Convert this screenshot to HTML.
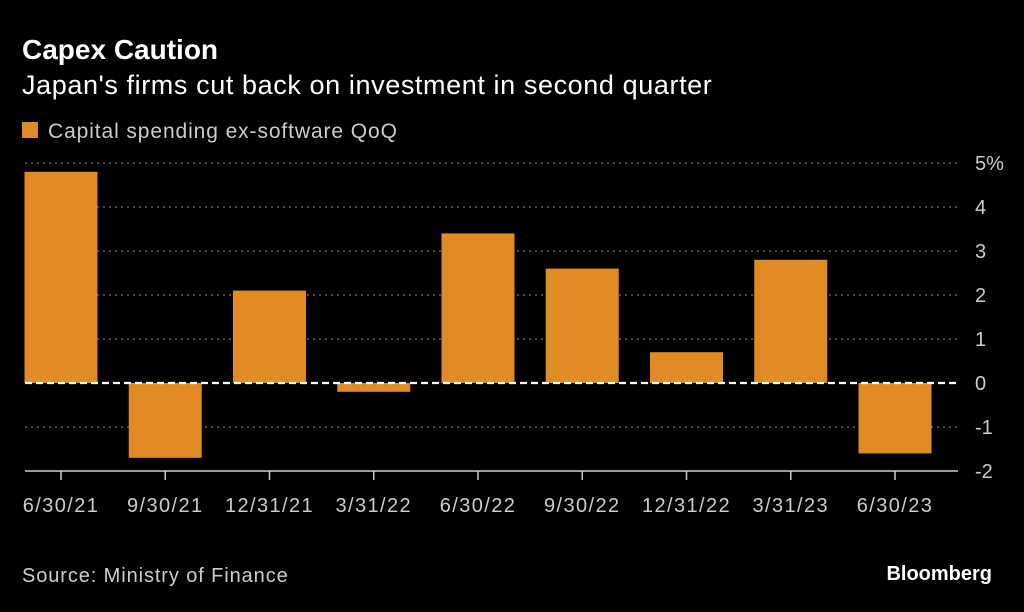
<!DOCTYPE html>
<html><head><meta charset="utf-8"><style>
body{margin:0;background:#000;width:1024px;height:607px;overflow:hidden;font-family:"Liberation Sans",sans-serif;color:#fff}
</style></head><body>
<svg width="1024" height="607">
<text x="22" y="59" font-size="28" font-weight="bold" fill="#fff">Capex Caution</text>
<text x="22" y="94" font-size="27" letter-spacing="0.6" fill="#fff">Japan's firms cut back on investment in second quarter</text>
<rect x="22" y="122" width="16" height="16" fill="#e08b24"/>
<text x="48" y="138" font-size="21" letter-spacing="0.9" fill="#ccc">Capital spending ex-software QoQ</text>
<g id="grid"></g><g id="bars"></g><g id="axis"></g>
<text x="22" y="582" font-size="20" letter-spacing="0.9" fill="#ccc">Source: Ministry of Finance</text>
<text x="992" y="580" font-size="20" font-weight="bold" fill="#fff" text-anchor="end">Bloomberg</text>
</svg>
<script>
const categories=["6/30/21","9/30/21","12/31/21","3/31/22","6/30/22","9/30/22","12/31/22","3/31/23","6/30/23"];
const values=[4.8,-1.7,2.1,-0.2,3.4,2.6,0.7,2.8,-1.6];
const yTicks=[5,4,3,2,1,0,-1,-2];
const yTickLabels=["5%","4","3","2","1","0","-1","-2"];
const NS="http://www.w3.org/2000/svg";
const y=v=>383-v*44;
const x=i=>61+i*104.25;
function mk(t,a,p){const e=document.createElementNS(NS,t);for(const k in a)e.setAttribute(k,a[k]);p.appendChild(e);return e;}
const g=document.getElementById('grid'),b=document.getElementById('bars'),ax=document.getElementById('axis');
yTicks.forEach((t,i)=>{
 if(t!==0&&t!==-2){const l=mk('line',{x1:25,x2:958,y1:y(t),y2:y(t),stroke:'#777','stroke-width':1.2,'stroke-dasharray':'2,4'},g);
 
 }
 const tx=mk('text',{x:975,y:y(t)+7,'font-size':20,fill:'#ccc'},ax);tx.textContent=yTickLabels[i];
 
 
});
values.forEach((v,i)=>{
 const r=mk('rect',{x:x(i)-36.5,width:73,y:Math.min(y(v),y(0)),height:Math.abs(y(v)-y(0)),fill:'#e08b24'},b);
 
 
 const tk=mk('line',{x1:x(i),x2:x(i),y1:y(-2),y2:y(-2)+9,stroke:'#ccc','stroke-width':1.5},ax);
 
 
 const t=mk('text',{x:x(i),y:512,'font-size':20,'letter-spacing':1.4,fill:'#ccc','text-anchor':'middle'},ax);t.textContent=categories[i];
 
 
});
const z=mk('line',{x1:25,x2:958,y1:y(0),y2:y(0),stroke:'#fff','stroke-width':2.2,'stroke-dasharray':'7,4'},ax);


const base=mk('line',{x1:25,x2:958,y1:y(-2),y2:y(-2),stroke:'#ccc','stroke-width':1.5},ax);


</script>
</body></html>
